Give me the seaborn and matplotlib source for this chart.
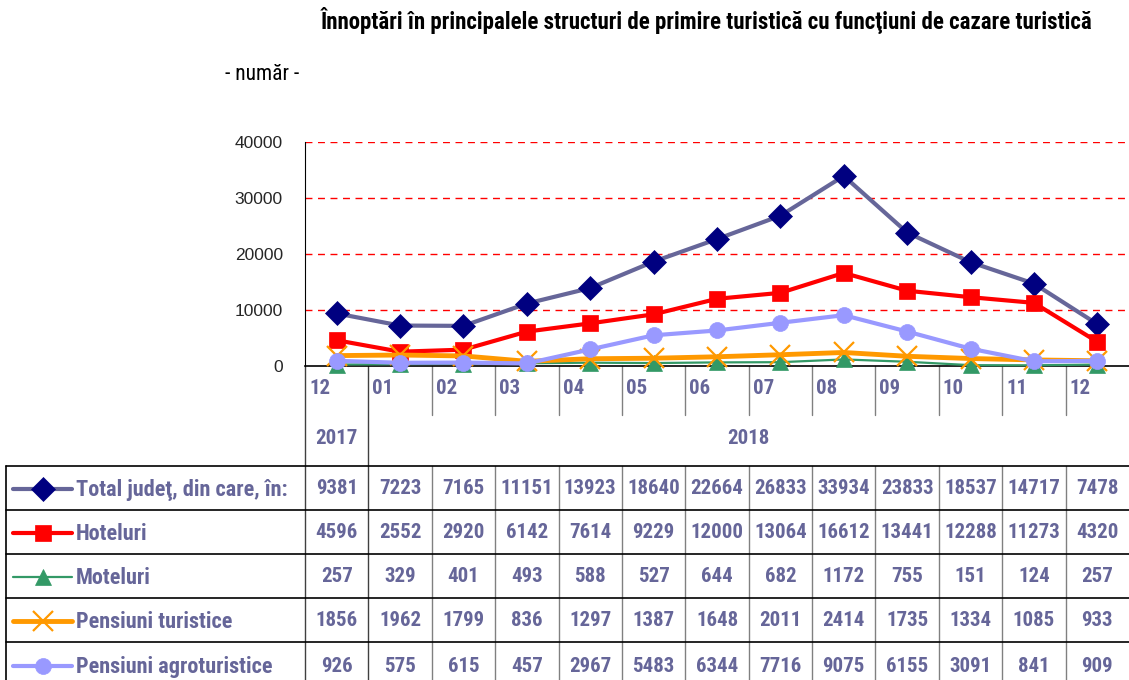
import numpy as np
import pandas as pd
import matplotlib
matplotlib.use("Agg")
import matplotlib.pyplot as plt
import matplotlib.transforms as mtransforms
import seaborn as sns

# Data
months = ["12", "01", "02", "03", "04", "05", "06", "07", "08", "09", "10", "11", "12"]
total = [9381, 7223, 7165, 11151, 13923, 18640, 22664, 26833, 33934, 23833, 18537, 14717, 7478]
hoteluri = [4596, 2552, 2920, 6142, 7614, 9229, 12000, 13064, 16612, 13441, 12288, 11273, 4320]
moteluri = [257, 329, 401, 493, 588, 527, 644, 682, 1172, 755, 151, 124, 257]
pensiuni = [1856, 1962, 1799, 836, 1297, 1387, 1648, 2011, 2414, 1735, 1334, 1085, 933]
agro = [926, 575, 615, 457, 2967, 5483, 6344, 7716, 9075, 6155, 3091, 841, 909]

series_names = ["Total judeţ, din care, în:", "Hoteluri", "Moteluri",
                "Pensiuni turistice", "Pensiuni agroturistice"]
series_values = [total, hoteluri, moteluri, pensiuni, agro]

# styles: line colour, marker, marker colour, line width, marker size
styles = [
    ("#666699", "D", "#000080", 3.0, 12),
    ("#FF0000", "s", "#FF0000", 3.0, 11),
    ("#339966", "^", "#339966", 1.6, 12),
    ("#FF9900", "x", "#FF9900", 3.5, 15),
    ("#9999FF", "o", "#9999FF", 3.0, 11.5),
]

sns.set_theme(style="white")
narrow = ["Liberation Sans Narrow", "Arial Narrow", "Roboto Condensed", "Archivo Narrow",
          "PT Sans Narrow", "IBM Plex Sans Condensed", "Liberation Sans", "DejaVu Sans"]
plt.rcParams["font.family"] = ["Liberation Sans", "DejaVu Sans"]
txt_col = "#666699"
tsize = 15

W, H = 1129, 680
fig = plt.figure(figsize=(W / 100, H / 100), dpi=100)

# overlay axes in pixel coordinates for the table / texts
tab = fig.add_axes([0, 0, 1, 1])
tab.set_xlim(0, W)
tab.set_ylim(H, 0)
tab.axis("off")

# main chart axes
x0, x1, ytop, ybot = 305, 1129, 142, 366
ax = fig.add_axes([x0 / W, 1 - ybot / H, (x1 - x0) / W, (ybot - ytop) / H])

df = pd.DataFrame({"idx": np.arange(len(months))})
for name, vals in zip(series_names, series_values):
    df[name] = vals

for name, (lc, mk, mc, lw, ms) in zip(series_names, styles):
    sns.lineplot(data=df, x="idx", y=name, ax=ax, color=lc, linewidth=lw,
                 marker=mk, markersize=ms, markerfacecolor=mc, markeredgecolor=mc,
                 markeredgewidth=1.6 if mk == "x" else 0.5, zorder=3, clip_on=False)

ax.set_xlim(-0.5, len(months) - 0.5)
ax.set_ylim(0, 40000)
ax.set_yticks([0, 10000, 20000, 30000, 40000])
ax.set_yticklabels(["0", "10000", "20000", "30000", "40000"], fontsize=12.5)
ax.set_xticks([])
ax.set_xlabel("")
ax.set_ylabel("")
for y in [10000, 20000, 30000, 40000]:
    ax.axhline(y, color="#FF0000", linestyle=(0, (5, 4)), linewidth=1, zorder=1)
for s in ["top", "right"]:
    ax.spines[s].set_visible(False)
ax.spines["left"].set_color("black")
ax.spines["left"].set_linewidth(0.8)
ax.spines["bottom"].set_color("black")
ax.spines["bottom"].set_linewidth(1.2)
ax.tick_params(axis="y", direction="out", length=6, width=0.8, color="black", pad=10)
ax.set_facecolor("none")

# title and unit
tab.text(707, 21, "Înnoptări în principalele structuri de primire turistică cu funcţiuni de cazare turistică",
         ha="center", va="center", fontsize=16.5, fontweight="bold", family=narrow, color="black")
tab.text(262, 75, "- număr -", ha="center", va="center", fontsize=15.5, family=narrow, color="black")

# table
bt = mtransforms.blended_transform_factory(ax.transData, tab.transData)
n = len(months)
col_w = (x1 - x0) / n
edges = [x0 + i * col_w for i in range(n + 1)]
row_tops = [466, 510, 554, 598, 642, 686]

# month row
for i, m in enumerate(months):
    tab.text(edges[i] + 4, 389, m, ha="left", va="center", fontsize=tsize,
             fontweight="bold", family=narrow, color=txt_col)
for e in edges[1:-1]:
    if abs(e - edges[1]) < 1:
        tab.plot([e, e], [366, 686], color="#404040", lw=1)
    else:
        tab.plot([e, e], [366, 415], color="#808080", lw=1)
        tab.plot([e, e], [466, 686], color="#808080", lw=1)
tab.plot([x0, x0], [366, 686], color="#404040", lw=1)

# year row
tab.text((edges[0] + edges[1]) / 2, 438, "2017", ha="center", va="center", fontsize=tsize,
         fontweight="bold", family=narrow, color=txt_col)
tab.text((edges[1] + edges[-1]) / 2, 438, "2018", ha="center", va="center", fontsize=tsize,
         fontweight="bold", family=narrow, color=txt_col)

# data rows
for y in row_tops[:-1]:
    tab.plot([6, W], [y, y], color="black", lw=1.2)
tab.plot([6, 6], [466, 686], color="black", lw=1.2)

for r, (name, vals, (lc, mk, mc, lw, ms)) in enumerate(zip(series_names, series_values, styles)):
    yc = (row_tops[r] + row_tops[r + 1]) / 2 + 1
    if r == 4:
        yc = 666
    tab.plot([13, 72], [yc, yc], color=lc, lw=lw)
    tab.plot([42.5], [yc], marker=mk, markersize=ms, color=mc,
             markeredgewidth=1.6 if mk == "x" else 0.5)
    tab.text(76, yc + 1, name, ha="left", va="center", fontsize=16, fontweight="bold",
             family=narrow, color=txt_col)
    for i, v in enumerate(vals):
        tab.text(i, yc, str(v), transform=bt, ha="center", va="center", fontsize=tsize,
                 fontweight="bold", family=narrow, color=txt_col)

fig.savefig("out.png", dpi=100)
